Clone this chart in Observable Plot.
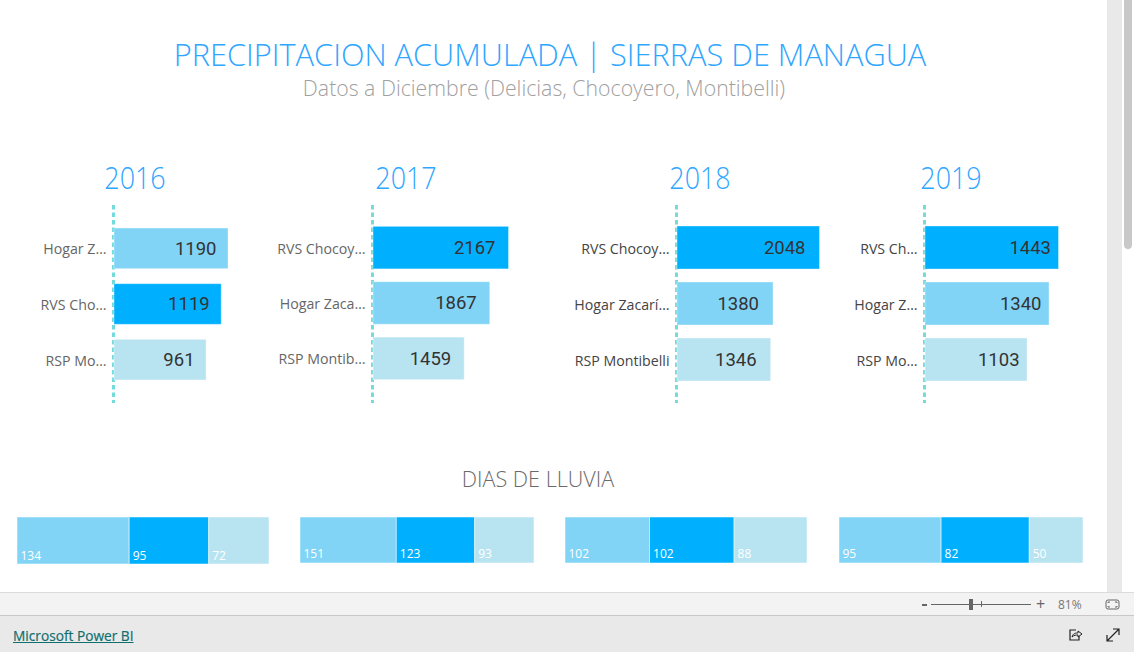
<!DOCTYPE html>
<html><head><meta charset="utf-8">
<script src="https://cdn.jsdelivr.net/npm/d3@7"></script>
<script src="https://cdn.jsdelivr.net/npm/@observablehq/plot@0.6"></script>
<style>
html,body{margin:0;padding:0;width:1134px;height:652px;overflow:hidden;background:#fff;font-family:"Open Sans",sans-serif}
.abs{position:absolute;white-space:nowrap}
.c{transform:translateX(-50%)}
.panel{position:absolute}
.panel svg{overflow:visible;display:block;background:transparent}
</style></head><body>
<div id="root"></div>
<script>
// --- data ---
const years = ["2016","2017","2018","2019"];
const sites = ["Hogar","RVS","RSP"];
const siteColors = ["#81d4f6","#00b0ff","#b8e4f2"];

const rainSites2016 = ["Hogar","RVS","RSP"];
const rainLabels2016 = ["Hogar Z…","RVS Cho…","RSP Mo…"];
const rainValues2016 = [1190,1119,961];
const rainSites2017 = ["RVS","Hogar","RSP"];
const rainLabels2017 = ["RVS Chocoy…","Hogar Zaca…","RSP Montib…"];
const rainValues2017 = [2167,1867,1459];
const rainSites2018 = ["RVS","Hogar","RSP"];
const rainLabels2018 = ["RVS Chocoy…","Hogar Zacarí…","RSP Montibelli"];
const rainValues2018 = [2048,1380,1346];
const rainSites2019 = ["RVS","Hogar","RSP"];
const rainLabels2019 = ["RVS Ch…","Hogar Z…","RSP Mo…"];
const rainValues2019 = [1443,1340,1103];

const daySites = ["Hogar","RVS","RSP"];
const days2016 = [134,95,72];
const days2017 = [151,123,93];
const days2018 = [102,102,88];
const days2019 = [95,82,50];

// --- layout ---
const rainSeries = [
  [rainSites2016,rainLabels2016,rainValues2016],
  [rainSites2017,rainLabels2017,rainValues2017],
  [rainSites2018,rainLabels2018,rainValues2018],
  [rainSites2019,rainLabels2019,rainValues2019]
];
const daySeries = [days2016,days2017,days2018,days2019];
const rainLayout = [
  {axis:113.5,end:227.5,pad:0.27,band:[8,190],dx:-12,ink:"#666"},
  {axis:372.5,end:508,pad:0.232,band:[8.5,187.5],dx:-13.5,ink:"#666"},
  {axis:676.5,end:819,pad:0.232,band:[8,189],dx:-14.5,ink:"#444"},
  {axis:924.5,end:1058,pad:0.232,band:[8,189],dx:-8,ink:"#444"}
];
const dayLayout = [
  {l:17,r:269,h:47,dy:-5},{l:300,r:534,h:46,dy:-6},
  {l:565,r:807,h:46,dy:-6},{l:839,r:1083,h:46,dy:-6}
];
const yearX = [135,406,700,951];
const FONT='"Open Sans",sans-serif';
const root=document.getElementById("root");

function add(html,style,cls){const d=document.createElement("div");d.className="abs "+(cls||"");d.style.cssText=style;d.innerHTML=html;root.appendChild(d);return d;}

add("PRECIPITACION ACUMULADA | SIERRAS DE MANAGUA","left:550px;top:36px;font-size:30.75px;font-weight:300;color:#2fa6ff;line-height:36px","c");
add("Datos a Diciembre (Delicias, Chocoyero, Montibelli)","left:544px;top:75px;font-size:21.25px;font-weight:300;color:#a0a0a0;line-height:25px","c");
add("DIAS DE LLUVIA","left:538px;top:463px;font-size:21.6px;font-weight:300;color:#6a6a6a;line-height:32px","c");
years.forEach((y,i)=>add(y,`left:${yearX[i]}px;top:154px;font-size:32px;font-weight:300;color:#2fa6ff;line-height:46px;transform:translateX(-50%) scaleX(.84)`));

rainSeries.forEach(([s,labels,vals],i)=>{
  const L=rainLayout[i], marginLeft=110, barW=L.end-L.axis, H=198;
  const rows=vals.map((v,k)=>({site:s[k],label:labels[k],value:v}));
  const maxV=d3.max(vals);
  const p=Plot.plot({
    width:marginLeft+barW+10,height:H,marginLeft,marginRight:10,marginTop:0,marginBottom:0,
    style:{background:"transparent",overflow:"visible"},
    x:{domain:[0,maxV],range:[marginLeft,marginLeft+barW],axis:null},
    y:{domain:labels,range:L.band,padding:L.pad,round:false,label:null,tickSize:0},
    color:{domain:sites,range:siteColors},
    marks:[
      Plot.ruleX([0],{dx:-1,stroke:"#74dada",strokeWidth:3,strokeDasharray:"4.5 3"}),
      Plot.barX(rows,{x:"value",y:"label",fill:"site",stroke:"#fff",strokeOpacity:0.35,strokeWidth:1}),
      Plot.text(rows,{x:"value",y:"label",text:d=>String(d.value),textAnchor:"end",dx:L.dx,fontSize:18.5,fontWeight:400,fontFamily:"Roboto",fill:"#333",style:"letter-spacing:2px"}),
      Plot.axisY({tickSize:0,tickPadding:8,dy:1,fontSize:14.2,fontFamily:FONT,stroke:"none",fill:L.ink,label:null})
    ]
  });
  p.classList.add("panel");
  p.style.left=(L.axis-marginLeft)+"px";p.style.top="205px";
  root.appendChild(p);
});

daySeries.forEach((vals,i)=>{
  const L=dayLayout[i];
  const rows=vals.map((v,k)=>({site:daySites[k],value:v}));
  const p=Plot.plot({
    width:L.r-L.l,height:L.h,margin:0,
    style:{background:"transparent",overflow:"visible"},
    x:{domain:[0,d3.sum(vals)],axis:null},
    color:{domain:sites,range:siteColors},
    marks:[
      Plot.barX(rows,Plot.stackX({x:"value",fill:"site",stroke:"#fff",strokeOpacity:0.5,strokeWidth:1})),
      Plot.text(rows,Plot.stackX1({x:"value",z:"site",text:d=>String(d.value),frameAnchor:"bottom",textAnchor:"start",dx:3,dy:L.dy,fontSize:12,fontFamily:FONT,fill:"#fff"}))
    ]
  });
  p.classList.add("panel");
  p.style.left=L.l+"px";p.style.top="517px";
  root.appendChild(p);
});

// --- viewer chrome ---
add("","left:1107px;top:0;width:15px;height:592px;background:#e9e9e9");
add("","left:1124px;top:0;width:8px;height:249px;background:#c8c8c8;border-radius:0 0 4px 4px");
add("","left:0;top:592px;width:1134px;height:23px;background:#f3f3f3;border-top:1px solid #dcdcdc;box-sizing:border-box");
add("","left:0;top:615px;width:1134px;height:37px;background:#e9e9e9;border-top:1px solid #c8c8c8;box-sizing:border-box");
add("Microsoft Power BI","left:13px;top:627px;font-size:13.7px;line-height:18px;color:#0f6f6f;text-decoration:underline;font-weight:500;-webkit-text-stroke:0.2px #0f6f6f");
add("","left:922px;top:604px;width:5px;height:2px;background:#666");
add("","left:931px;top:604px;width:100px;height:1px;background:#666");
add("","left:969px;top:599px;width:4px;height:11px;background:#666");
add("","left:981px;top:601px;width:1px;height:6px;background:#666");
add("+","left:1036px;top:594px;font-size:16px;line-height:20px;color:#666");
add("81%","left:1058px;top:596px;font-size:12px;line-height:17px;color:#777");
add('<svg width="16" height="12" style="display:block"><rect x="1" y="1" width="13" height="9" rx="2" fill="none" stroke="#666"/><path d="M3 4V3H5M10 3H12V4M12 7V8H10M5 8H3V7" fill="none" stroke="#666"/></svg>',"left:1105px;top:599px");
add('<svg width="16" height="16" style="display:block"><path d="M9 3H3V13H12V9" fill="none" stroke="#222" stroke-width="1.2"/><path d="M5 10C6 6 9 6 11 6V4L15 7L11 10V8C9 8 7 8 5 10Z" fill="#e9e9e9" stroke="#222"/></svg>',"left:1067px;top:627px");
add('<svg width="16" height="16" style="display:block"><path d="M2 14L14 2M8 2H14V8M2 8V14H8" fill="none" stroke="#222" stroke-width="1.2"/></svg>',"left:1105px;top:627px");
</script>
</body></html>
